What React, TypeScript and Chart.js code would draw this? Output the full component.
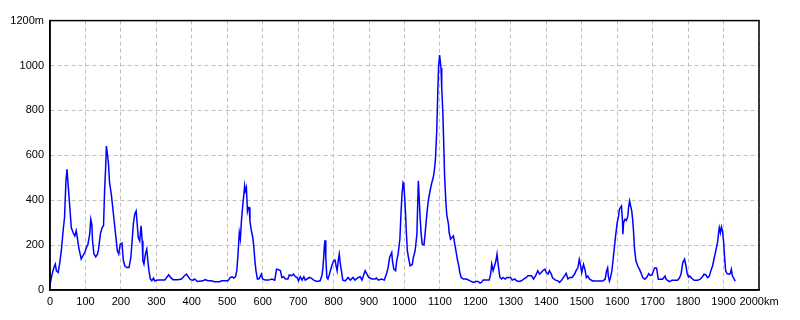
import React, { useEffect, useRef } from "react";
import { Chart, registerables } from "chart.js";

Chart.register(...registerables);

const distanceKm: number[] = [
  0, 2, 6, 11, 15, 18, 23, 27, 32, 37, 41, 45, 48, 51, 56, 60, 65, 70, 74, 77,
  81, 86, 88, 93, 98, 103, 107, 112, 115, 118, 120, 124, 129, 134, 137, 142, 147, 151, 154, 157,
  159, 162, 165, 168, 173, 178, 182, 187, 190, 194, 198, 203, 207, 211, 216, 223, 228, 231, 235, 239,
  243, 246, 249, 253, 257, 260, 262, 265, 269, 273, 276, 279, 283, 287, 292, 295, 305, 324, 329, 335,
  340, 347, 361, 371, 378, 385, 389, 396, 404, 408, 416, 432, 437, 446, 455, 465, 479, 484, 495, 502,
  509, 514, 518, 523, 527, 531, 534, 537, 540, 544, 547, 549, 551, 554, 557, 559, 562, 564, 568, 572,
  575, 578, 581, 585, 589, 593, 596, 600, 607, 617, 626, 634, 639, 645, 650, 654, 659, 664, 671, 675,
  682, 687, 692, 697, 701, 706, 711, 716, 720, 725, 732, 737, 744, 753, 762, 767, 770, 772, 774, 776,
  778, 781, 784, 787, 791, 795, 800, 804, 807, 810, 813, 816, 819, 822, 826, 833, 841, 847, 855, 860,
  866, 870, 875, 880, 885, 889, 894, 899, 908, 917, 921, 926, 935, 943, 949, 954, 958, 964, 966, 970,
  975, 978, 982, 987, 990, 993, 996, 998, 1000, 1003, 1005, 1008, 1012, 1016, 1022, 1025, 1030, 1035, 1037, 1039,
  1041, 1044, 1047, 1050, 1055, 1058, 1063, 1067, 1072, 1077, 1081, 1084, 1087, 1091, 1094, 1096, 1099, 1101, 1103, 1105,
  1108, 1111, 1113, 1116, 1119, 1124, 1126, 1130, 1134, 1138, 1141, 1145, 1149, 1153, 1156, 1160, 1166, 1175, 1185, 1194,
  1201, 1208, 1213, 1217, 1222, 1231, 1239, 1243, 1246, 1250, 1254, 1258, 1261, 1264, 1269, 1274, 1278, 1284, 1289, 1299,
  1304, 1311, 1316, 1323, 1330, 1336, 1344, 1348, 1358, 1364, 1370, 1376, 1381, 1386, 1390, 1396, 1400, 1405, 1409, 1414,
  1418, 1426, 1433, 1437, 1442, 1447, 1452, 1456, 1461, 1466, 1473, 1480, 1484, 1489, 1493, 1496, 1500, 1503, 1505, 1509,
  1513, 1517, 1522, 1531, 1545, 1559, 1566, 1570, 1573, 1575, 1578, 1581, 1585, 1588, 1592, 1596, 1600, 1604, 1606, 1609,
  1612, 1615, 1616, 1618, 1622, 1626, 1630, 1632, 1635, 1638, 1641, 1644, 1646, 1649, 1653, 1658, 1663, 1667, 1672, 1678,
  1684, 1689, 1693, 1698, 1702, 1706, 1711, 1716, 1722, 1728, 1735, 1738, 1742, 1747, 1754, 1761, 1770, 1775, 1780, 1785,
  1790, 1794, 1797, 1801, 1805, 1810, 1817, 1827, 1834, 1840, 1845, 1850, 1855, 1860, 1864, 1869, 1873, 1878, 1883, 1886,
  1888, 1891, 1894, 1897, 1900, 1903, 1906, 1910, 1915, 1919, 1922, 1925, 1930, 1933,
];

const elevationM: number[] = [
  44, 41, 71, 100, 115, 86, 78, 115, 175, 264, 323, 486, 538, 471, 367, 278, 256, 241, 264, 234,
  190, 153, 138, 153, 167, 190, 204, 249, 315, 293, 219, 160, 148, 160, 182, 249, 278, 286, 441, 545,
  641, 604, 560, 478, 426, 352, 293, 219, 175, 160, 204, 209, 130, 108, 100, 100, 145, 204, 293, 338,
  352, 293, 234, 219, 286, 219, 130, 115, 160, 182, 130, 86, 49, 41, 53, 41, 44, 44, 56, 68,
  56, 46, 46, 49, 61, 71, 61, 46, 44, 49, 38, 41, 46, 41, 41, 37, 37, 41, 41, 41,
  56, 59, 53, 59, 86, 175, 256, 227, 308, 382, 427, 464, 441, 456, 352, 367, 367, 308, 264, 234,
  190, 130, 86, 49, 49, 59, 71, 49, 44, 44, 49, 44, 93, 90, 86, 56, 59, 49, 49, 67,
  64, 71, 59, 56, 41, 59, 44, 59, 44, 49, 56, 53, 44, 38, 41, 64, 101, 145, 197, 222,
  145, 56, 49, 64, 86, 108, 130, 133, 108, 86, 130, 160, 116, 86, 44, 41, 56, 44, 56, 44,
  52, 56, 59, 44, 68, 86, 71, 56, 49, 49, 53, 44, 49, 44, 71, 101, 145, 167, 130, 93,
  86, 130, 160, 227, 338, 427, 478, 471, 426, 338, 264, 175, 138, 108, 113, 145, 175, 249, 367, 486,
  426, 323, 249, 204, 201, 249, 338, 397, 441, 478, 500, 530, 575, 708, 886, 989, 1046, 1019, 989, 900,
  797, 634, 515, 412, 338, 293, 256, 227, 234, 241, 212, 175, 138, 108, 78, 56, 49, 49, 41, 34,
  38, 38, 31, 34, 44, 44, 44, 71, 116, 86, 108, 130, 160, 116, 56, 49, 56, 49, 56, 56,
  44, 49, 41, 38, 41, 49, 56, 64, 64, 49, 64, 86, 71, 78, 86, 93, 78, 71, 86, 71,
  53, 44, 41, 34, 41, 53, 64, 74, 49, 56, 56, 71, 86, 99, 137, 114, 77, 99, 114, 92,
  55, 62, 48, 40, 40, 40, 48, 85, 99, 62, 40, 55, 85, 129, 189, 248, 300, 330, 359, 367,
  374, 307, 248, 300, 315, 310, 330, 367, 397, 374, 352, 307, 263, 181, 129, 107, 92, 77, 55, 48,
  58, 73, 65, 67, 85, 99, 97, 48, 48, 48, 62, 48, 43, 37, 43, 43, 43, 52, 70, 122,
  137, 107, 77, 58, 62, 52, 43, 43, 48, 58, 70, 67, 55, 62, 85, 107, 137, 174, 211, 255,
  278, 255, 281, 263, 218, 144, 85, 73, 70, 73, 92, 62, 48, 40,
];

const xTicks: number[] = [0, 100, 200, 300, 400, 500, 600, 700, 800, 900, 1000, 1100, 1200, 1300, 1400, 1500, 1600, 1700, 1800, 1900, 2000];
const yTicks: number[] = [0, 200, 400, 600, 800, 1000, 1200];

const FONT = "'Liberation Sans', Arial, sans-serif";

export default function App() {
  const ref = useRef<HTMLCanvasElement | null>(null);

  useEffect(() => {
    if (!ref.current) return;
    const points = distanceKm.map((d, i) => ({ x: d, y: elevationM[i] }));
    const frame = {
      id: "frame",
      afterDraw(chart: any) {
        const { ctx, chartArea } = chart;
        ctx.save();
        ctx.setLineDash([]);
        ctx.strokeStyle = "#000";
        ctx.lineWidth = 1.5;
        ctx.strokeRect(chartArea.left, chartArea.top, chartArea.right - chartArea.left, chartArea.bottom - chartArea.top);
        ctx.restore();
      },
    };
    const chart = new Chart(ref.current, {
      type: "line",
      data: {
        datasets: [
          {
            data: points,
            borderColor: "#0000ff",
            borderWidth: 1.5,
            pointRadius: 0,
            tension: 0,
            fill: false,
          },
        ],
      },
      options: {
        animation: false,
        responsive: false,
        maintainAspectRatio: false,
        layout: { padding: { left: 0, top: 11, right: 33, bottom: 0 } },
        plugins: { legend: { display: false }, tooltip: { enabled: false } },
        scales: {
          x: {
            type: "linear",
            min: 0,
            max: 2000,
            afterBuildTicks: (s: any) => {
              s.ticks = xTicks.map((v) => ({ value: v }));
            },
            afterFit: (s: any) => {
              s.height = 22;
            },
            grid: { color: "#c0c0c0", drawTicks: false, lineWidth: 1 },
            border: { display: true, color: "#000", width: 1.5, dash: [4, 3] },
            ticks: {
              color: "#000",
              padding: 5,
              maxRotation: 0,
              autoSkip: false,
              font: { family: FONT, size: 11 },
              callback: (v: any) => (Number(v) === 2000 ? "2000km" : String(v)),
            },
          },
          y: {
            type: "linear",
            min: 0,
            max: 1200,
            afterBuildTicks: (s: any) => {
              s.ticks = yTicks.map((v) => ({ value: v }));
            },
            afterFit: (s: any) => {
              s.width = 42;
            },
            grid: { color: "#c0c0c0", drawTicks: false, lineWidth: 1 },
            border: { display: true, color: "#000", width: 1.5, dash: [4, 3] },
            ticks: {
              color: "#000",
              padding: 6,
              autoSkip: false,
              font: { family: FONT, size: 11 },
              callback: (v: any) => (Number(v) === 1200 ? "1200m" : String(v)),
            },
          },
        },
      },
      plugins: [frame],
    } as any);
    return () => chart.destroy();
  }, []);

  return (
    <div style={{ width: 784, height: 304 }}>
      <canvas ref={ref} width={784} height={304} style={{ display: "block" }} />
    </div>
  );
}
